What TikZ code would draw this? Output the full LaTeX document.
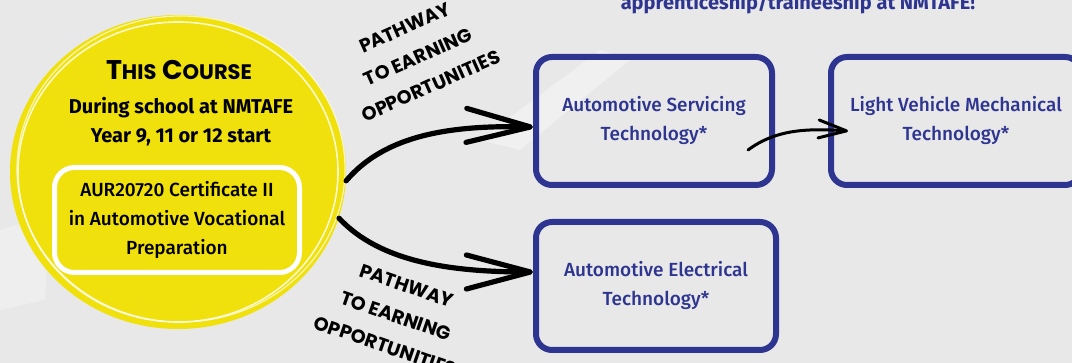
\documentclass[tikz,border=0pt]{standalone}
\usepackage{fontspec}
\setmainfont{Fira Sans}[UprightFont=* Medium,BoldFont=* Bold]
\newfontfamily\handfont{Poppins}
\usetikzlibrary{arrows.meta,shapes.geometric}
\definecolor{tafeblue}{HTML}{2E3590}
\definecolor{tafeyellow}{HTML}{F0E00C}
\definecolor{bggrey}{HTML}{E8E8E8}

\begin{document}
\begin{tikzpicture}[x=0.5pt,y=-0.5pt,
    pathbox/.style={draw=tafeblue,line width=3pt,rounded corners=8pt,minimum width=118pt,
      minimum height=64pt,align=center,text=tafeblue,font=\fontsize{9.5}{14.5}\selectfont},
    bigarrow/.style={line width=2.6pt,line cap=round,-{Straight Barb[length=32pt,width=17pt,round]}},
    smallarrow/.style={line width=1.5pt,line cap=round,-{Straight Barb[length=14pt,width=9pt,round]}},
    hand/.style={align=center,font=\handfont\bfseries\fontsize{9.5}{16}\selectfont}]
    \useasboundingbox (0,0) rectangle (1072,363);
    \clip (0,0) rectangle (1072,363);
    \fill[bggrey] (0,0) rectangle (1072,363);
    % brush strokes
    \fill[white,opacity=0.35] (480,140) -- (600,50) -- (630,60) -- (520,150) -- cycle;
    \fill[white,opacity=0.3] (0,230) -- (50,215) -- (45,300) -- (0,310) -- cycle;

    \node[text=tafeblue,font=\bfseries\fontsize{10}{12}\selectfont,anchor=base] (head) at (798,10)
      {apprenticeship/traineeship at NMTAFE!};

    % this course
    \node[ellipse,fill=tafeyellow,minimum width=168pt,minimum height=157pt,inner sep=0pt] (course) at (178,172) {};
    \draw[white,line width=0.8pt,opacity=0.8] (178,172) circle[x radius=160,y radius=150];
    \draw[white,line width=0.6pt,opacity=0.7] (181,169) circle[x radius=164,y radius=153];
    \node[font=\handfont\bfseries\fontsize{13.5}{15}\selectfont] (title) at (179,70)
      {T{\fontsize{10.5}{11}\selectfont HIS} C{\fontsize{10.5}{11}\selectfont OURSE}};
    \node[align=center,font=\bfseries\fontsize{10}{14.5}\selectfont] (during) at (181,122)
      {During school at NMTAFE\\Year 9, 11 or 12 start};
    \node[draw=white,line width=2.5pt,rounded corners=10pt,fill=tafeyellow,minimum width=122.5pt,
      minimum height=52.5pt,align=center,font=\fontsize{9.5}{14.5}\selectfont] (cert) at (177,220)
      {AUR20720 Certificate II\\in Automotive Vocational\\Preparation};

    % pathways
    \node[pathbox] (serv) at (654,121) {Automotive Servicing\\Technology*};
    \node[pathbox,minimum width=125pt] (lvm) at (956,121) {Light Vehicle Mechanical\\Technology*};
    \node[pathbox,minimum width=120pt] (elec) at (656,286) {Automotive Electrical\\Technology*};

    \draw[bigarrow] (course.-3) .. controls (385,135) and (450,125) .. ([yshift=-3pt]serv.west);
    \draw[bigarrow] (course.-16) .. controls (380,262) and (450,272) .. ([yshift=7pt]elec.west);
    \coordinate (s3) at ([xshift=-13.5pt,yshift=-14.5pt]serv.east);
    \coordinate (e3) at ([xshift=10pt,yshift=-5pt]lvm.west);
    \draw[smallarrow] (s3) .. controls (775,130) and (805,128) .. (e3);

    \node[hand,rotate=24] (up) at (418,57) {PATHWAY\\TO EARNING\\OPPORTUNITIES};
    \node[hand,rotate=-19] (down) at (396,316) {PATHWAY\\TO EARNING\\OPPORTUNITIES};
\end{tikzpicture}
\end{document}
